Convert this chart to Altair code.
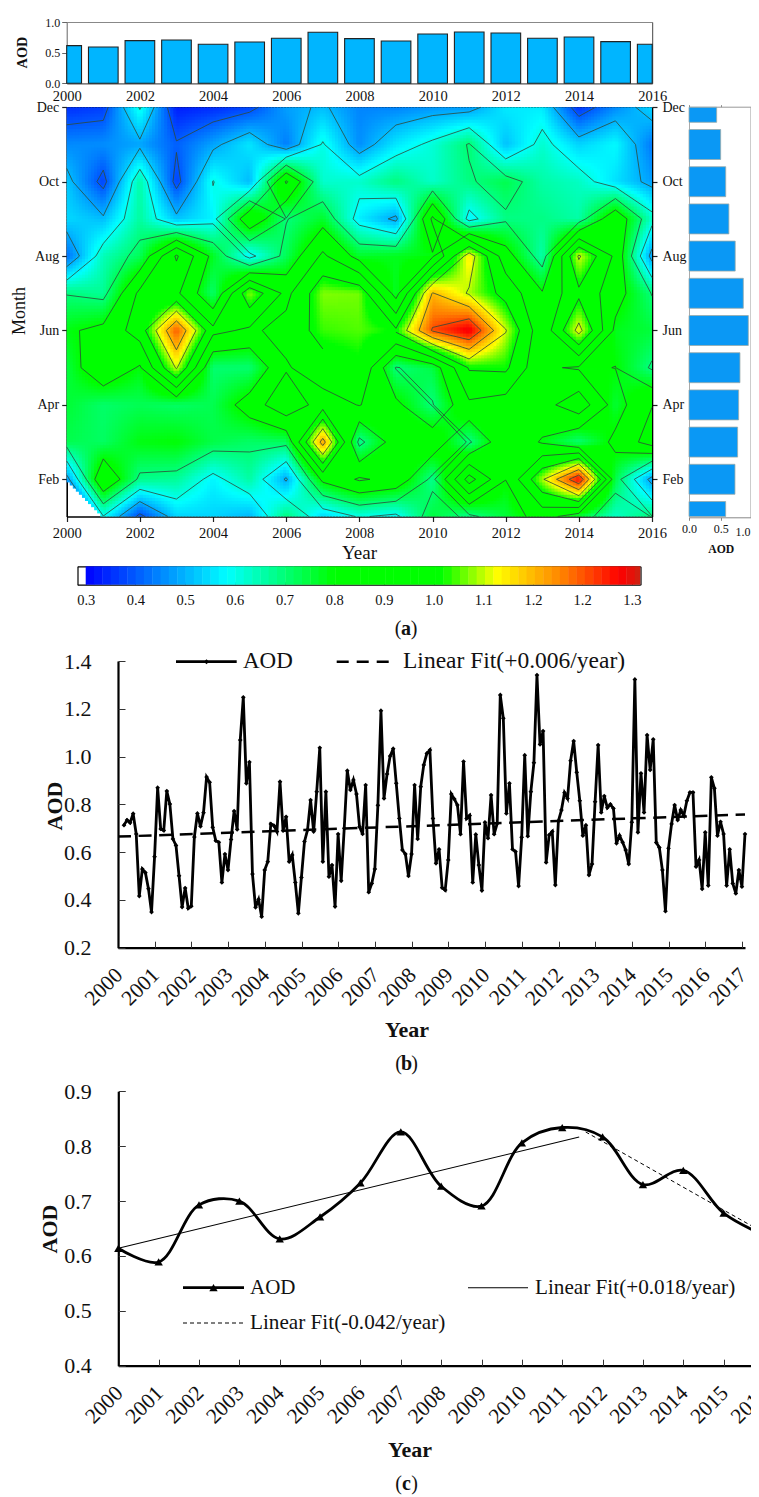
import math
import altair as alt
import pandas as pd

# ---------- values ----------
# monthly AOD, March 2000 to February 2017 (panel b, also the heatmap grid of panel a)
aod_monthly = [
 .713,.734,.723,.761,.676,.416,.529,.514,.447,.349,.581,.870,
 .697,.691,.856,.801,.655,.628,.501,.370,.450,.365,.374,.663,
 .762,.708,.765,.914,.892,.704,.648,.641,.473,.592,.525,.653,
 .772,.695,1.069,1.248,.888,.977,.508,.369,.402,.330,.525,.560,
 .718,.711,.686,.895,.690,.748,.560,.588,.473,.344,.494,.644,
 .693,.818,.686,.853,1.037,.560,.853,.497,.546,.372,.676,.480,
 .700,.941,.860,.902,.843,.706,.676,.881,.432,.469,.529,.796,
 1.192,.825,.927,1.002,1.033,.888,.741,.609,.592,.500,.592,.881,
 .655,.874,.965,1.013,1.027,.741,.553,.612,.451,.441,.567,.843,
 .822,.797,.675,.979,.741,.753,.473,.674,.546,.439,.725,.658,
 .839,.675,.720,1.258,1.160,.762,.888,.612,.602,.458,.662,1.006,
 .667,.853,.974,1.341,1.051,1.107,.557,.672,.686,.462,.730,.776,
 .849,.825,.983,1.065,.934,.815,.669,.713,.504,.550,.811,1.048,
 .766,.835,.786,.800,.783,.637,.669,.641,.609,.550,.725,1.323,
 .683,.930,.766,1.090,.944,1.072,.640,.619,.525,.353,.616,.718,
 .797,.734,.776,.753,.815,.850,.850,.539,.567,.446,.683,.460,
 .913,.867,.669,.727,.676,.460,.612,.469,.427,.525,.455,.676,
]
feb_2000 = 0.46          # read from the heatmap's left edge; no point in panel b
years = list(range(2000, 2017))
annual_bars = [.614,.592,.696,.707,.636,.674,.734,.832,.728,.690,.804,.837,.820,.734,.755,.680,.636]
month_bars = [.579,.726,.768,.784,.805,.937,.858,.730,.630,.580,.500,.437]   # Jan..Dec
annual_line = [.614,.589,.693,.700,.631,.671,.733,.826,.727,.691,.806,.834,.817,.730,.756,.678,.638]
contour_levels = [.395,.49,.585,.68,.775,.87,.965,1.06,1.155,1.25]
colorbar_ticks = [.3,.395,.49,.585,.68,.775,.87,.965,1.06,1.155,1.249,1.344]
color_stops = [.30,.57,.775,.98,1.085,1.212,1.32,1.36]
color_hex = ["#0000ff","#00ffff","#00ff00","#00ff00","#ffff00","#ff8000","#ff0000","#d02010"]
fit_b_x, fit_b_y = [2000,2017.08], [.665,.758]
fit_c1_x, fit_c1_y = [2000,2011.42], [.614,.8166]
fit_c2_x, fit_c2_y = [2011.58,2016], [.826,.642]

W, H = 743, 1489
SERIF = "Liberation Serif"
nan = float("nan")

# ---------- grid for panel a ----------
grid = [[nan]*17 for _ in range(12)]     # grid[month-1][year-2000]
for k, v in enumerate(aod_monthly):
    m = k + 2                            # months since Jan 2000
    yi, mi = m // 12, m % 12
    if yi <= 16:
        grid[mi][yi] = v
grid[1][0] = feb_2000

STEP = .0159

cells = []
NS = 12
for mi in range(11):
    for yi in range(16):
        f00, f10 = grid[mi][yi], grid[mi][yi+1]
        f01, f11 = grid[mi+1][yi], grid[mi+1][yi+1]
        for a in range(NS):
            for b in range(NS):
                u, w = (a+.5)/NS, (b+.5)/NS
                if math.isnan(f00):
                    if u + w < 1:
                        continue
                    val = f11 + (1-u)*(f01-f11) + (1-w)*(f10-f11)
                else:
                    val = f00*(1-u)*(1-w)+f10*u*(1-w)+f01*(1-u)*w+f11*u*w
                cells.append({"x":round(2000+yi+a/NS,3),"x2":round(2000+yi+(a+1.3)/NS,3),
                              "y":round(1+mi+b/NS,3),"y2":round(1+mi+(b+1.3)/NS,3),
                              "v":round(val,3)})
cells_df = pd.DataFrame(cells)
cells_df["x2"] = cells_df["x2"].clip(upper=2016)
cells_df["y2"] = cells_df["y2"].clip(upper=12)

def cross(p, q, fp, fq, lv):
    t = (lv-fp)/(fq-fp)
    return (p[0]+t*(q[0]-p[0]), p[1]+t*(q[1]-p[1]))

segs = []
for lv in contour_levels:
    for mi in range(11):
        for yi in range(16):
            c = [((2000+yi,1+mi),grid[mi][yi]),((2001+yi,1+mi),grid[mi][yi+1]),
                 ((2001+yi,2+mi),grid[mi+1][yi+1]),((2000+yi,2+mi),grid[mi+1][yi])]
            if math.isnan(c[0][1]):
                c = c[1:]
            pts = []
            n = len(c)
            for i in range(n):
                (p,fp),(q,fq) = c[i],c[(i+1)%n]
                if (fp-lv)*(fq-lv) < 0:
                    pts.append(cross(p,q,fp,fq,lv))
            if len(pts) == 2:
                pairs = [(pts[0],pts[1])]
            elif len(pts) == 4:
                centre = sum(x[1] for x in c)/4
                if (centre > lv) != (c[0][1] > lv):     # saddles join as the reference does
                    pairs = [(pts[0],pts[1]),(pts[2],pts[3])]
                else:
                    pairs = [(pts[1],pts[2]),(pts[3],pts[0])]
            else:
                pairs = []
            for p,q in pairs:
                segs.append({"x":p[0],"y":p[1],"x2":q[0],"y2":q[1]})
segs_df = pd.DataFrame(segs)

# ---------- helpers ----------
def sc(d, r):
    return alt.Scale(domain=d, range=[r[0]-8, r[1]-8], nice=False, zero=False)

def ax(orient, pos, **kw):
    p = pos-8
    off = {"left":-p,"top":-p,"right":p-W,"bottom":p-H}[orient]
    base = dict(orient=orient, offset=off, title=None, grid=False, labelFont=SERIF,
                labelColor="#111", domainColor="#000", tickColor="#222", labelOverlap=False, labelFlush=False)
    base.update(kw)
    return alt.Axis(**base)

def axis_layer(xs, ys, xaxis=None, yaxis=None):
    df = pd.DataFrame({"x":[xs.domain[0],xs.domain[-1]],"y":[ys.domain[0],ys.domain[-1]]})
    return alt.Chart(df).mark_point(opacity=0).encode(
        x=alt.X("x:Q",scale=xs,axis=xaxis), y=alt.Y("y:Q",scale=ys,axis=yaxis))

ONE = alt.Data(values=[{"a":1}])
def txt(s, x, y, size, bold=False, angle=0, align="center", color="#111"):
    return alt.Chart(ONE).mark_text(text=s, font=SERIF, fontSize=size,
        fontWeight="bold" if bold else "normal", angle=angle, align=align,
        baseline="middle", color=color).encode(x=alt.value(x-8), y=alt.value(y-8))

def hline(x1, x2, y, width=2.5, dash=None):
    kw = dict(color="#000", strokeWidth=width)
    if dash:
        kw["strokeDash"] = dash
    return alt.Chart(ONE).mark_rule(**kw).encode(
        x=alt.value(x1-8), x2=alt.value(x2-8), y=alt.value(y-8))

def marker(x, y, shape, size):
    return alt.Chart(ONE).mark_point(shape=shape, filled=True, size=size, color="#000", opacity=1).encode(
        x=alt.value(x-8), y=alt.value(y-8))

def caption(letter, cx, y):
    return [txt("(", cx-8, y, 20), txt(letter, cx, y, 20, bold=True), txt(")", cx+8, y, 20)]

layers = []
color_scale = alt.Scale(domain=color_stops, range=color_hex, interpolate="rgb")

# ---------- panel a: annual bars ----------
sx_top = sc([2000,2016],[66.7,652.2]); sy_top = sc([0,1],[83.3,22])
top_df = pd.DataFrame({"x":[max(2000,y-.405) for y in years],"x2":[min(2016,y+.405) for y in years],"v":annual_bars,"z":[0]*17})
layers.append(alt.Chart(top_df).mark_rect(fill="#00b5ff",stroke="#222",strokeWidth=1.1).encode(
    x=alt.X("x:Q",scale=sx_top,axis=None),x2="x2:Q",
    y=alt.Y("v:Q",scale=sy_top,axis=None),y2="z:Q"))
layers.append(axis_layer(sx_top,sy_top,
    ax("bottom",83.3,values=years[::2],format="d",labelFontSize=14.5,tickSize=0,labelPadding=6,domainWidth=1.2,domainColor="#555"),
    ax("left",66.7,values=[0,.5,1],format=".1f",labelFontSize=12,tickSize=5,labelPadding=2,domainColor="#666",tickColor="#666")))
layers.append(axis_layer(sx_top,sy_top,
    ax("top",22,labels=False,ticks=False,domainColor="#888",domainWidth=1),
    ax("right",652.2,labels=False,ticks=False,domainColor="#444",domainWidth=1)))
layers.append(txt("AOD",23,52.5,14.3,bold=True,angle=270))

# ---------- panel a: heatmap ----------
sx_map = sc([2000,2016],[66.7,652]); sy_map = sc([1,12],[516.5,107.3])
layers.append(alt.Chart(cells_df).mark_rect(strokeWidth=0).encode(
    x=alt.X("x:Q",scale=sx_map,axis=None),x2="x2:Q",
    y=alt.Y("y:Q",scale=sy_map,axis=None),y2="y2:Q",
    color=alt.Color("v:Q",scale=color_scale,legend=None)))
layers.append(alt.Chart(segs_df).mark_rule(color="#2f4a3a",strokeWidth=.9,opacity=.9).encode(
    x=alt.X("x:Q",scale=sx_map,axis=None),x2="x2:Q",
    y=alt.Y("y:Q",scale=sy_map,axis=None),y2="y2:Q"))
MONTHS = "['','Jan','Feb','Mar','Apr','May','Jun','Jul','Aug','Sep','Oct','Nov','Dec'][datum.value]"
layers.append(axis_layer(sx_map,sy_map,
    ax("bottom",516.5,values=years[::2],format="d",labelFontSize=14.5,tickSize=5,tickWidth=1.2,labelPadding=5,domainWidth=1.6),
    ax("left",66.7,values=list(range(2,13,2)),labelExpr=MONTHS,labelFontSize=14,tickSize=5,tickWidth=1.2,labelPadding=3,domainWidth=1.6)))
layers.append(axis_layer(sx_map,sy_map,
    ax("top",107.3,labels=False,ticks=False,domainWidth=1.6),
    ax("right",652,values=list(range(2,13,2)),labelExpr=MONTHS,labelFontSize=14,tickSize=5,tickWidth=1.2,labelPadding=5,domainWidth=1.6)))
layers.append(txt("Year",359.5,553,19))
layers.append(txt("Month",20,311,18,angle=270))

# ---------- panel a: monthly bars ----------
sx_r = sc([0,1],[689,752.3]); sy_r = sc([1,12],[516.5,107.3])
r_df = pd.DataFrame({"v":month_bars,"z":[0]*12,"y":[max(1,m-.403) for m in range(1,13)],"y2":[min(12,m+.403) for m in range(1,13)]})
layers.append(alt.Chart(r_df).mark_rect(fill="#0a98f5",stroke="#9aa",strokeWidth=.8).encode(
    x=alt.X("z:Q",scale=sx_r,axis=None),x2="v:Q",
    y=alt.Y("y:Q",scale=sy_r,axis=None),y2="y2:Q"))
layers.append(axis_layer(sx_r,sc([1,12],[517.3,106.7]),
    ax("bottom",517.3,values=[0,.5,1],labelExpr="datum.value < 1 ? format(datum.value,'.1f') : ''",labelFontSize=12,tickSize=3,labelPadding=3,domainColor="#888",tickColor="#888"),
    ax("left",689,labels=False,ticks=False,domainColor="#aaa")))
layers.append(axis_layer(sx_r,sc([1,12],[517.3,106.7]),
    ax("top",106.7,values=[0,.5,1],labels=False,tickSize=2,domainColor="#999",tickColor="#888"),
    ax("right",750.5,labels=False,ticks=False,domainColor="#999")))
layers.append(txt("1.0",750.5,532,12,align="right"))
layers.append(txt("AOD",721.3,549,11.7,bold=True))

# ---------- panel a: colour bar ----------
px_per = 49.7/.095
sx_cb = sc([.284,1.36],[85.7-.016*px_per,85.7+1.06*px_per])
sy_cb = sc([0,1],[584.7,566.3])
band_v = [round(.30+i*STEP,4) for i in range(67)]
cb_df = pd.DataFrame({"x":band_v,"x2":[min(1.36,b+STEP*1.05) for b in band_v],"v":[b+STEP/2 for b in band_v],
                      "y0":[0]*len(band_v),"y1":[1]*len(band_v)})
layers.append(alt.Chart(cb_df).mark_rect(strokeWidth=0).encode(
    x=alt.X("x:Q",scale=sx_cb,axis=None),x2="x2:Q",
    y=alt.Y("y0:Q",scale=sy_cb,axis=None),y2="y1:Q",
    color=alt.Color("v:Q",scale=color_scale,legend=None)))
layers.append(axis_layer(sx_cb,sy_cb,
    ax("bottom",584.7,values=colorbar_ticks,format=".1f",labelFontSize=14.5,tickSize=0,labelPadding=9,domainWidth=1.2),
    ax("left",77.5,labels=False,ticks=False,domainWidth=1.2)))
layers.append(axis_layer(sx_cb,sy_cb,
    ax("top",584.7,values=colorbar_ticks,labels=False,tickSize=3,domain=False,tickColor="#444"),
    ax("right",640.5,labels=False,ticks=False,domainWidth=1.2)))
layers.append(axis_layer(sx_cb,sy_cb,
    ax("top",566.3,labels=False,ticks=False,domainWidth=1.2),None))
layers += caption("a",406,629)

# ---------- panel b ----------
sx_b = sc([2000,2017.08],[118,745]); sy_b = sc([.2,1.4],[947.7,661])
ticks_b = list(range(2000,2018))
b_df = pd.DataFrame({"t":[2000+.163+k/12 for k in range(len(aod_monthly))],"v":aod_monthly})
layers.append(alt.Chart(pd.DataFrame({"t":fit_b_x,"v":fit_b_y})).mark_line(color="#000",strokeWidth=2.5,strokeDash=[13,7.6]).encode(
    x=alt.X("t:Q",scale=sx_b,axis=None),y=alt.Y("v:Q",scale=sy_b,axis=None)))
layers.append(alt.Chart(b_df).mark_line(color="#000",strokeWidth=2.8,interpolate="linear").encode(
    x=alt.X("t:Q",scale=sx_b,axis=None),y=alt.Y("v:Q",scale=sy_b,axis=None)))
layers.append(alt.Chart(b_df).mark_point(shape="diamond",filled=True,size=22,color="#000",opacity=1).encode(
    x=alt.X("t:Q",scale=sx_b,axis=None),y=alt.Y("v:Q",scale=sy_b,axis=None)))
layers.append(axis_layer(sx_b,sy_b,
    ax("bottom",947.7,values=ticks_b,format="d",labelFontSize=21.5,labelAngle=315,labelAlign="right",labelBaseline="middle",tickSize=0,labelPadding=24,labelOffset=1,domainWidth=2.2),
    ax("left",118,values=[.2,.4,.6,.8,1,1.2,1.4],format=".1f",labelFontSize=22,tickSize=0,labelPadding=27,domainWidth=2.2)))
layers.append(axis_layer(sx_b,sy_b,
    ax("top",947.7,values=ticks_b,labels=False,tickSize=6.5,domain=False,tickColor="#333"),
    ax("right",118,values=[.2,.4,.6,.8,1,1.2,1.4],labels=False,tickSize=7,domain=False,tickColor="#333")))
layers.append(txt("AOD",55,806,22,bold=True,angle=270))
layers.append(txt("Year",407,1030,22,bold=True))
layers.append(hline(176,236.7,661.7,2.8))
layers.append(marker(206.5,661.7,"diamond",24))
layers.append(txt("AOD",243,661,23,align="left"))
layers.append(hline(336.7,389.3,661.7,2.5,[12,8]))
layers.append(txt("Linear Fit(+0.006/year)",403,661,23.5,align="left"))
layers += caption("b",406.5,1064)

# ---------- panel c ----------
sx_c = sc([2000,2016],[118.3,764]); sy_c = sc([.4,.9],[1365.7,1091.3])
c_df = pd.DataFrame({"t":years,"v":annual_line})
layers.append(alt.Chart(pd.DataFrame({"t":fit_c1_x,"v":fit_c1_y})).mark_line(color="#000",strokeWidth=1.1).encode(
    x=alt.X("t:Q",scale=sx_c,axis=None),y=alt.Y("v:Q",scale=sy_c,axis=None)))
layers.append(alt.Chart(pd.DataFrame({"t":fit_c2_x,"v":fit_c2_y})).mark_line(color="#000",strokeWidth=1,strokeDash=[4,3]).encode(
    x=alt.X("t:Q",scale=sx_c,axis=None),y=alt.Y("v:Q",scale=sy_c,axis=None)))
layers.append(alt.Chart(c_df).mark_line(color="#000",strokeWidth=2.8,interpolate="catmull-rom").encode(
    x=alt.X("t:Q",scale=sx_c,axis=None),y=alt.Y("v:Q",scale=sy_c,axis=None)))
layers.append(alt.Chart(c_df).mark_point(shape="triangle-up",filled=True,size=70,color="#000",opacity=1).encode(
    x=alt.X("t:Q",scale=sx_c,axis=None),y=alt.Y("v:Q",scale=sy_c,axis=None)))
layers.append(axis_layer(sx_c,sy_c,
    ax("bottom",1365.7,values=years,format="d",labelFontSize=21.5,labelAngle=315,labelAlign="right",labelBaseline="middle",tickSize=0,labelPadding=24,labelOffset=1,domainWidth=2.2),
    ax("left",118.3,values=[.4,.5,.6,.7,.8,.9],format=".1f",labelFontSize=22,tickSize=0,labelPadding=27,domainWidth=2.2)))
layers.append(axis_layer(sx_c,sy_c,
    ax("top",1365.7,values=years,labels=False,tickSize=6.5,domain=False,tickColor="#333"),
    ax("right",118.3,values=[.4,.5,.6,.7,.8,.9],labels=False,tickSize=7,domain=False,tickColor="#333")))
layers.append(txt("AOD",50,1229,22,bold=True,angle=270))
layers.append(txt("Year",410,1450,22,bold=True))
layers.append(hline(183,244,1287.7,2.8))
layers.append(marker(213.5,1287.7,"triangle-up",70))
layers.append(txt("AOD",250,1288,21,align="left"))
layers.append(hline(468,528,1287.7,1.1))
layers.append(txt("Linear Fit(+0.018/year)",535,1288,21.2,align="left"))
layers.append(hline(183,244,1323,1,[4,3]))
layers.append(txt("Linear Fit(-0.042/year)",250,1323,21.2,align="left"))
layers += caption("c",406.5,1484)

chart = alt.layer(*layers).resolve_scale(x="independent",y="independent",color="independent").properties(
    width=W,height=H,autosize=alt.AutoSizeParams(type="none"),padding=0
).configure_view(stroke=None)
chart.save("out.html", embed_options={"renderer":"svg","actions":False})
